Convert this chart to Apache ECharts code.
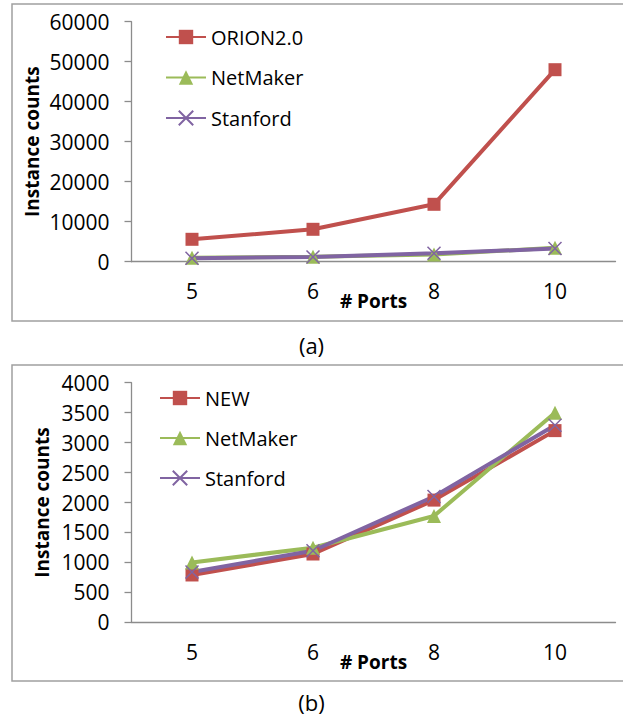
<!DOCTYPE html>
<html>
<head>
<meta charset="utf-8">
<script src="https://cdn.jsdelivr.net/npm/echarts@6/dist/echarts.min.js"></script>
<style>
  html, body { margin: 0; padding: 0; background: #ffffff; }
  #chart { width: 623px; height: 723px; }
</style>
</head>
<body>
<div id="chart"></div>
<script>
// ---- data ----
const ports = ['5', '6', '8', '10'];

// chart (a)
const orion = [5600, 8100, 14350, 48000];
const netMakerA = [1000, 1245, 1775, 3500];
const stanfordA = [840, 1195, 2100, 3290];
const yTicksA = { min: 0, max: 60000, interval: 10000 };

// chart (b)
const newVals = [790, 1140, 2040, 3200];
const netMakerB = [1000, 1245, 1775, 3500];
const stanfordB = [840, 1195, 2100, 3290];
const yTicksB = { min: 0, max: 4000, interval: 500 };

const captions = ['(a)', '(b)'];
const yName = 'Instance counts';
const xName = '# Ports';

// ---- styles ----
const RED = '#C0504D', GREEN = '#9BBB59', PURPLE = '#8064A2';
const AXIS = '#8C8C8C';
const FONT = '"Open Sans", Lato, sans-serif';
const X_PATH = 'path://M0,0L10,10M10,0L0,10';

function mkSeries(name, data, idx, kind) {
  const color = kind === 'rect' ? RED : kind === 'tri' ? GREEN : PURPLE;
  const s = {
    name: name, type: 'line', data: data,
    xAxisIndex: idx, yAxisIndex: idx,
    lineStyle: { color: color, width: 4 },
    itemStyle: { color: color },
    symbolSize: 13,
    showSymbol: true,
    animation: false,
    emphasis: { disabled: true }
  };
  if (kind === 'rect') s.symbol = 'rect';
  else if (kind === 'tri') { s.symbol = 'triangle'; s.symbolSize = 14; }
  else {
    s.symbol = X_PATH;
    s.symbolSize = 13;
    s.itemStyle = { color: 'none', borderColor: color, borderWidth: 1.5 };
  }
  return s;
}

function xAxisCfg(idx) {
  return {
    type: 'category', gridIndex: idx, data: ports, boundaryGap: true,
    axisLine: { lineStyle: { color: AXIS, width: 1.3 } },
    axisTick: { show: false },
    axisLabel: { color: '#000', fontFamily: FONT, fontSize: 21, margin: 19 },
    name: xName, nameLocation: 'middle', nameGap: 30, nameMoveOverlap: false,
    nameTextStyle: { color: '#000', fontFamily: FONT, fontSize: 19, fontWeight: 'bold' }
  };
}

function yAxisCfg(idx, ticks, gap) {
  return {
    type: 'value', gridIndex: idx,
    min: ticks.min, max: ticks.max, interval: ticks.interval,
    axisLine: { show: true, lineStyle: { color: AXIS, width: 1.3 } },
    axisTick: { show: true, length: 7, lineStyle: { color: AXIS, width: 1.3 } },
    splitLine: { show: false },
    axisLabel: { color: '#000', fontFamily: FONT, fontSize: 21, margin: 22, formatter: function (v) { return String(v); } },
    name: yName, nameLocation: 'middle', nameGap: gap, nameMoveOverlap: false,
    nameTextStyle: { color: '#000', fontFamily: FONT, fontSize: 19, fontWeight: 'bold' }
  };
}

function legendCfg(names, left, top, gap) {
  return {
    data: names, orient: 'vertical', left: left, top: top, padding: 0,
    itemWidth: 40, itemHeight: 18, itemGap: gap,
    textStyle: { color: '#000', fontFamily: FONT, fontSize: 20, lineHeight: 22 },
    selectedMode: false
  };
}

const chart = echarts.init(document.getElementById('chart'), null, { renderer: 'svg' });
chart.setOption({
  backgroundColor: '#ffffff',
  animation: false,
  grid: [
    { left: 131.5, top: 21.7, width: 484, height: 240 },
    { left: 131.5, top: 382.7, width: 484, height: 239.6 }
  ],
  xAxis: [xAxisCfg(0), xAxisCfg(1)],
  yAxis: [yAxisCfg(0, yTicksA, 90), yAxisCfg(1, yTicksB, 80)],
  legend: [
    legendCfg(['ORION2.0', 'NetMaker', 'Stanford'], 165, 26, 18.5),
    legendCfg(['NEW', 'NetMaker', 'Stanford'], 159, 387, 18)
  ],
  series: [
    mkSeries('ORION2.0', orion, 0, 'rect'),
    mkSeries('NetMaker', netMakerA, 0, 'tri'),
    mkSeries('Stanford', stanfordA, 0, 'x'),
    mkSeries('NEW', newVals, 1, 'rect'),
    mkSeries('NetMaker', netMakerB, 1, 'tri'),
    mkSeries('Stanford', stanfordB, 1, 'x')
  ],
  graphic: [
    { type: 'rect', shape: { x: 12, y: 4, width: 620, height: 317 }, style: { fill: 'none', stroke: '#A0A0A0', lineWidth: 1.5 }, silent: true },
    { type: 'rect', shape: { x: 12, y: 365, width: 620, height: 316 }, style: { fill: 'none', stroke: '#A0A0A0', lineWidth: 1.5 }, silent: true },
    { type: 'text', left: 'center', top: 334, style: { text: captions[0], fill: '#000', font: '22px ' + FONT } },
    { type: 'text', left: 'center', top: 691, style: { text: captions[1], fill: '#000', font: '22px ' + FONT } }
  ]
});
</script>
</body>
</html>
